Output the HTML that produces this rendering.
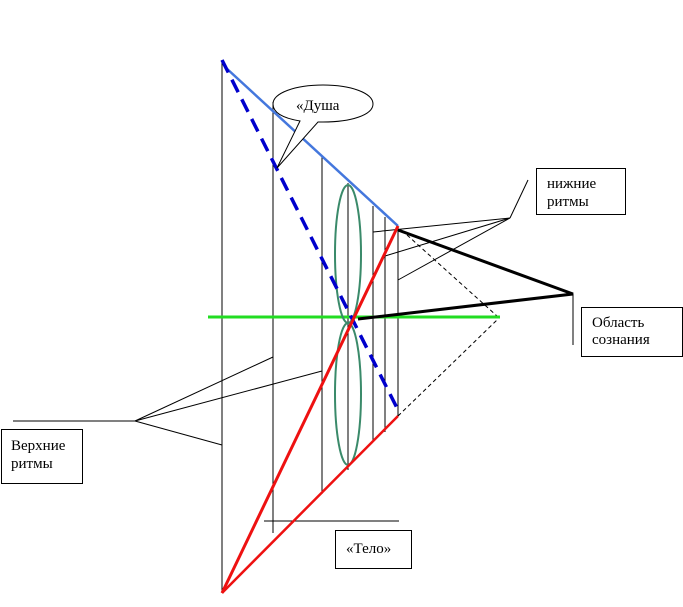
<!DOCTYPE html>
<html><head><meta charset="utf-8"><style>
body{margin:0;background:#fff;width:683px;height:607px;overflow:hidden}
svg{display:block}
text{font-family:"Liberation Serif",serif;font-size:15px;fill:#000}
</style></head><body>
<svg width="683" height="607" viewBox="0 0 683 607">
<g stroke="#000" stroke-width="1" fill="none">
<line x1="222" y1="60" x2="222" y2="593"/>
<line x1="273" y1="102" x2="273" y2="533"/>
<line x1="322" y1="155" x2="322" y2="494"/>
<line x1="348" y1="183" x2="348" y2="470"/>
<line x1="373" y1="206" x2="373" y2="442"/>
<line x1="385" y1="217" x2="385" y2="432"/>
<line x1="398" y1="226" x2="398" y2="416"/>
<line x1="264" y1="521" x2="399" y2="521"/>
<line x1="13" y1="421" x2="135" y2="421"/>
<line x1="135" y1="421" x2="273" y2="357"/>
<line x1="135" y1="421" x2="322" y2="371"/>
<line x1="135" y1="421" x2="222" y2="445"/>
<line x1="510" y1="218" x2="528" y2="180"/>
<line x1="510" y1="218" x2="373" y2="232"/>
<line x1="510" y1="218" x2="385" y2="256"/>
<line x1="510" y1="218" x2="398" y2="280"/>
<line x1="573" y1="294" x2="573" y2="345"/>
<line x1="407" y1="235" x2="497" y2="316" stroke-dasharray="4,3"/>
<line x1="398" y1="416" x2="497" y2="320" stroke-dasharray="4,3"/>
</g>
<line x1="208" y1="317" x2="500" y2="317" stroke="#22dd22" stroke-width="3"/>
<g stroke="#3a8a6a" stroke-width="2" fill="none">
<ellipse cx="348" cy="254" rx="13" ry="69"/>
<ellipse cx="348" cy="394" rx="13" ry="71"/>
</g>
<line x1="225" y1="67" x2="398" y2="226" stroke="#4477dd" stroke-width="2.5"/>
<line x1="222" y1="60" x2="398" y2="410" stroke="#0000cc" stroke-width="3.5" stroke-dasharray="14,8"/>
<line x1="222" y1="593" x2="398" y2="226" stroke="#ee1111" stroke-width="3"/>
<line x1="222" y1="593" x2="398" y2="416" stroke="#ee1111" stroke-width="2.5"/>
<polyline points="398,230 573,294 358,319" stroke="#000" stroke-width="3" fill="none"/>
<path d="M300,121 C282,118 273,112 273,104 C273,93 295,85 323,85 C351,85 373,93 373,104 C373,115 351,122 323,122 C321,122 320,122 318,122 L277,168 Z" fill="#fff" stroke="#000"/>
<text x="296" y="110">«Душа</text>
<rect x="1.5" y="429.5" width="81" height="54" fill="#fff" stroke="#000"/>
<text x="11" y="450">Верхние</text><text x="11" y="468">ритмы</text>
<rect x="335.5" y="530.5" width="76" height="38" fill="#fff" stroke="#000"/>
<text x="346" y="553">«Тело»</text>
<rect x="536.5" y="168.5" width="89" height="46" fill="#fff" stroke="#000"/>
<text x="547" y="188">нижние</text><text x="547" y="206">ритмы</text>
<rect x="581.5" y="307.5" width="101" height="49" fill="#fff" stroke="#000"/>
<text x="592" y="327">Область</text><text x="592" y="344">сознания</text>
</svg>
</body></html>
